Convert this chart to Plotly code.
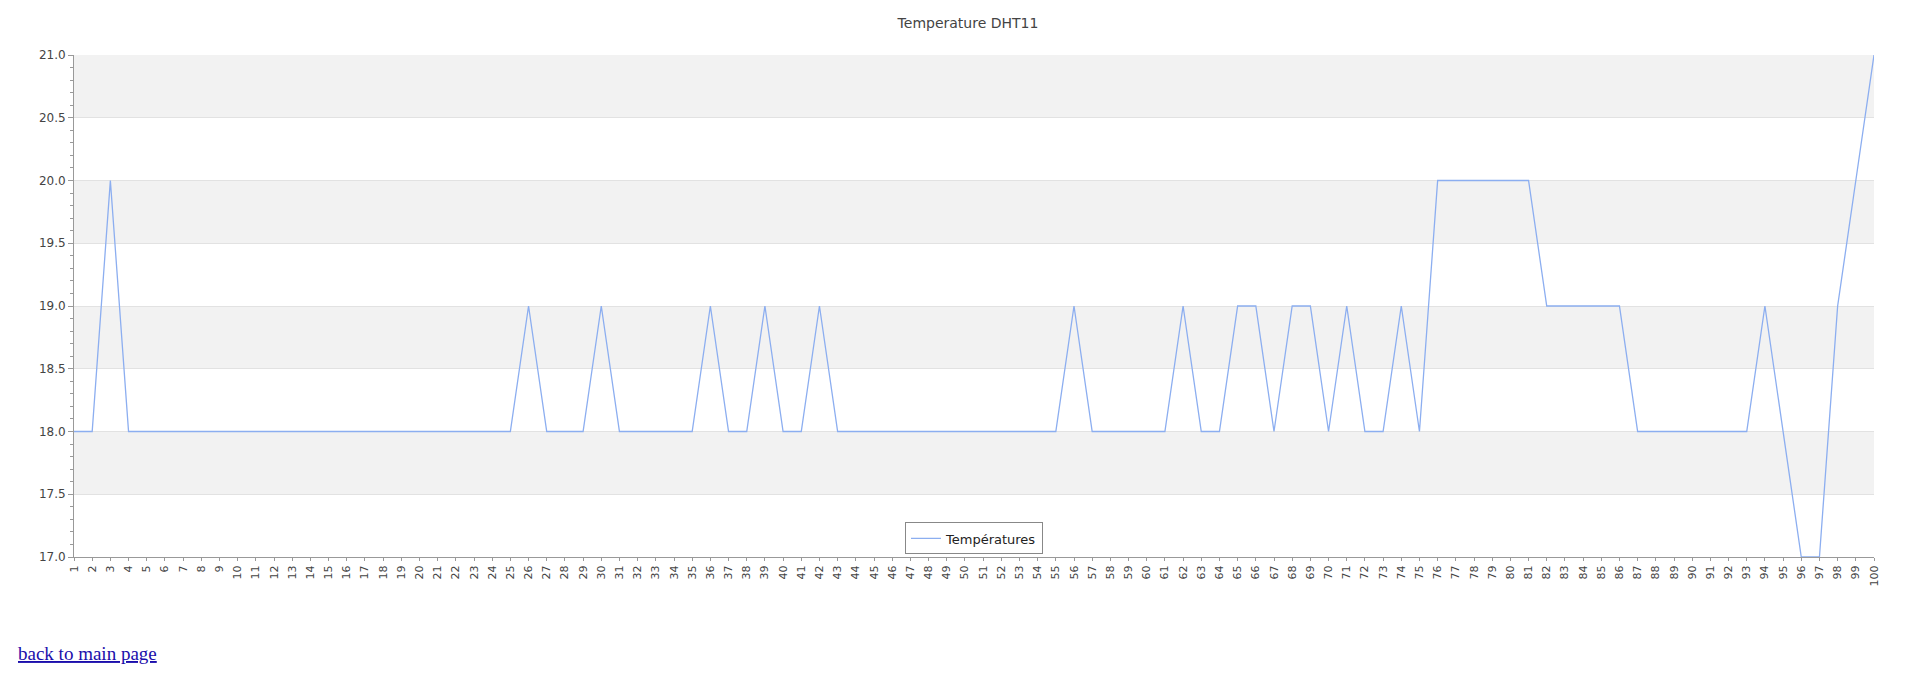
import plotly.graph_objects as go

samples = list(range(1, 101))
temps = [18, 18, 20] + [18] * 22 + [19, 18, 18, 18, 19, 18, 18, 18, 18, 18, 19, 18, 18, 19, 18, 18, 19] \
    + [18] * 13 + [19, 18, 18, 18, 18, 18, 19, 18, 18, 19, 19, 18, 19, 19, 18, 19, 18, 18, 19, 18] \
    + [20] * 6 + [19] * 5 + [18] * 7 + [19, 18, 17, 17, 19, 20, 21]
tick_labels = [str(s) for s in samples]

fig = go.Figure()
fig.add_trace(go.Scatter(x=samples, y=temps, mode="lines", name="Températures",
                         line=dict(color="#8caef0", width=1.3)))

# alternating horizontal bands
for lo in [17.5, 18.5, 19.5, 20.5]:
    fig.add_hrect(y0=lo, y1=lo + 0.5, fillcolor="#f2f2f2", line_width=0, layer="below")

fig.update_layout(
    width=1920, height=692,
    paper_bgcolor="white", plot_bgcolor="white",
    margin=dict(l=66, r=54, t=47, b=143),
    font=dict(family="DejaVu Sans", size=11, color="#444"),
    title=dict(text="Temperature DHT11", x=0.5, xanchor="center", y=0.985, yanchor="top",
               font=dict(size=14, color="#444")),
    showlegend=True,
    legend=dict(x=0.5, y=0.005, xanchor="center", yanchor="bottom", orientation="h",
                bordercolor="#888", borderwidth=1, bgcolor="white", font=dict(size=13, color="#222")),
)
fig.update_xaxes(range=[1, 100], tickmode="array", tickvals=samples, ticktext=tick_labels,
                 tickangle=-90, showgrid=False, showline=True, linecolor="#999",
                 ticks="outside", ticklen=3, tickcolor="#999", tickfont=dict(size=11), zeroline=False)
fig.update_yaxes(range=[17, 21], dtick=0.5, tickformat=".1f", showgrid=True, gridcolor="#e2e2e2",
                 showline=True, linecolor="#999", ticks="outside", ticklen=5, tickcolor="#999",
                 minor=dict(dtick=0.1, ticks="outside", ticklen=3, tickcolor="#999", showgrid=False),
                 zeroline=False, tickfont=dict(size=12))

fig.add_annotation(text="<u>back to main page</u>", xref="paper", yref="paper",
                   x=-58 / 1800, y=-96 / 502, xanchor="left", yanchor="middle", showarrow=False,
                   font=dict(family="Liberation Serif", size=19, color="#1a0dab"))

fig.write_html("out.html")
